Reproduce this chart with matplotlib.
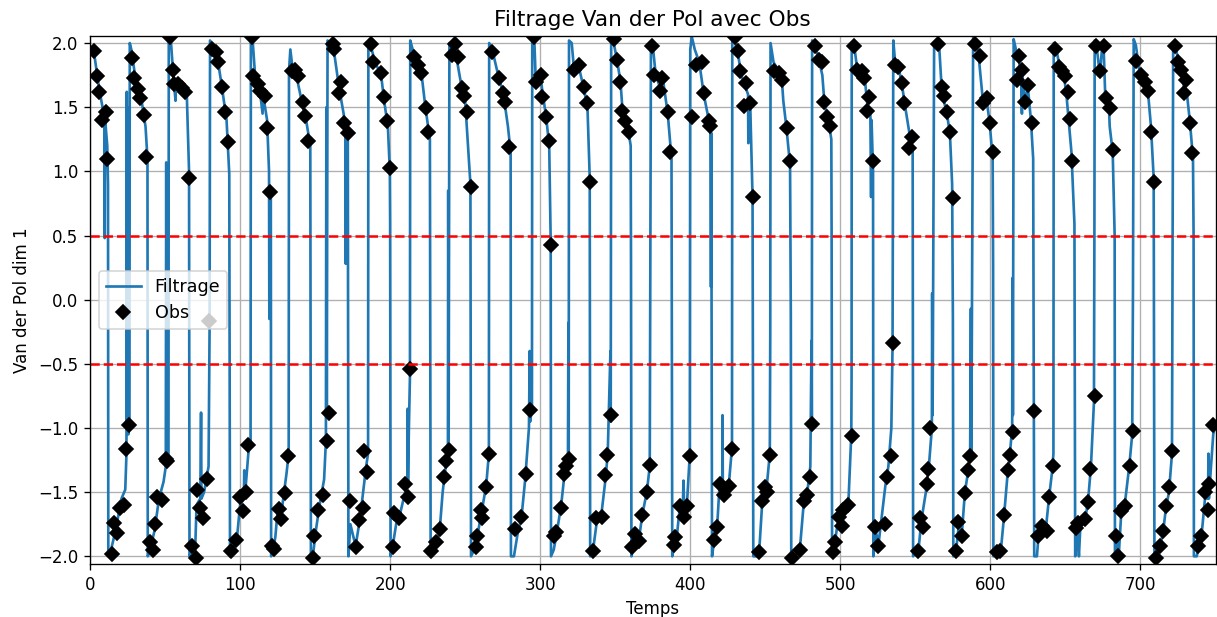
import matplotlib
matplotlib.use('Agg')
import matplotlib.pyplot as plt

# ── Filtered trajectory (one block per half cycle) ──
filt_t = [
    0, 3, 6, 9.6, 9.8, 10.1, 11.5, 12.0,
    12.2, 14, 17, 21, 23.5, 24.3, 24.5, 24.8, 25.2, 25.5, 26.3, 26.5,
    27.5, 30, 34, 37, 38.3, 38.5,
    40, 43, 46, 49, 50.5, 50.8, 51.1, 52.3, 52.5,
    54, 55.5, 57, 57.3, 61, 64.5, 66.0, 66.3,
    68, 70, 71, 73.5, 74.0, 74.3, 76, 79, 79.7, 80.0,
    81.5, 85, 88, 91, 92.8, 93.3,
    95, 98, 100, 102.5, 102.8, 103.1, 105.5, 107.0, 107.2,
    108.5, 110, 113, 115, 115.3, 118, 119.3, 119.5, 119.8, 120.5, 120.7,
    122, 123.5, 125, 128, 131, 132.4, 132.6,
    133.5, 135, 138, 141, 144, 146.8, 147.2,
    148.5, 150.5, 153, 156, 157.2, 157.5, 157.8, 158.3,
    160, 163, 166, 169, 170.2, 170.4, 170.6, 171.8, 172.2,
    173.5, 177, 180, 182, 184, 185.3, 185.5,
    187, 190, 194, 196, 198.5, 199.8, 200.0, 200.3,
    202, 204, 207, 210, 211.5, 211.7, 211.9, 212.5, 213.2, 213.4,
    215, 218, 221, 223.5, 226.5, 227.0,
    228.5, 231, 233, 235, 237, 238.5, 238.7, 239.0, 239.5,
    241.5, 244, 247, 250, 253.5, 253.9,
    256, 258, 261, 264, 265.8, 266.0,
    268, 272, 275.5, 278.5, 280.3, 280.5,
    282.5, 285, 287.5, 290, 292.5, 293.0, 293.3, 294.5, 294.7,
    296, 297, 300, 302, 304, 306, 307, 307.2,
    309, 311, 314, 316, 318.5, 318.8, 319.0, 319.2,
    321, 322.5, 326, 329, 331.5, 333, 333.3,
    335, 337.5, 341, 343.5, 345, 346.8, 347.0, 347.3,
    349, 351, 353.5, 355, 357, 359, 360.3, 360.5, 360.8,
    362, 364, 366, 368, 371, 373, 373.8,
    375, 377, 380, 382, 385, 387.5, 388.0,
    389.5, 391, 393, 395, 395.5, 396, 398, 399.7, 400.0,
    401, 403, 406, 409, 412, 413.5, 413.8, 414.0, 414.5,
    416, 418, 419.5, 421.3, 421.5, 421.7, 423, 426, 427.8, 428.0,
    430, 432, 434, 437, 438.5, 438.7, 440, 441.5, 442.0,
    444, 446, 448, 451, 453.0, 453.3, 453.5,
    455.5, 459, 461, 462, 464, 466.5, 467.0, 467.3,
    469, 473, 475.5, 478, 480, 480.8, 481.0, 481.2,
    483, 485.5, 488, 489.5, 492, 494, 494.2, 494.5,
    496, 498.5, 501, 503, 505.5, 507.3, 507.5, 507.6,
    509, 511, 514, 516.5, 518, 520, 520.5, 520.8, 521.8, 522.0,
    523.5, 525.5, 528, 530, 532, 534, 534.8, 535.3,
    536.5, 539, 541, 543, 546, 548.2, 548.5,
    550, 552, 554, 557, 559, 561, 561.2, 561.5, 562.5,
    564, 566, 567.5, 569, 571, 573, 574.5, 575.0, 575.3,
    577, 579, 581, 583, 585, 586.5, 587.0, 587.3, 588.5,
    590, 592, 595, 597, 599.5, 601.5, 601.8, 602.0,
    603.5, 605, 607, 609, 611.5, 613, 614.5, 614.8, 615.0, 615.5,
    617, 618.5, 620.5, 621.0, 621.3, 623, 625, 627, 628.5, 629.2,
    631, 632, 634, 637, 639, 641, 642.0, 642.2,
    644, 646, 649, 650.5, 652, 654, 656, 656.5,
    658, 659, 660, 663, 665, 667, 669, 669.3, 669.5,
    670.5, 672, 673, 674.5, 675.5, 676.5, 679, 679.5, 681.5, 682.8, 683.0,
    684.5, 685.5, 687, 689, 690, 692.5, 694.5, 695.0, 695.5,
    697, 699, 701, 703, 705, 707, 708.8, 709.3,
    711, 713, 715, 717, 719, 721, 721.8,
    723, 725, 727, 729, 731, 733, 735, 735.4, 735.6,
    737.5, 739, 741, 743, 745, 745.3, 745.6, 747, 748.5, 750,
]
filt_y = [
    1.98, 1.9, 1.65, 1.42, 0.48, 1.40, 1.2, 0.9,
    -2.0, -1.95, -1.8, -1.55, -1.48, -1.2, 1.62, -1.0, 1.5, -1.05, -0.95, 2.0,
    1.95, 1.75, 1.58, 1.35, 1.1, -2.0,
    -1.95, -1.8, -1.55, -1.42, -1.3, 1.07, -1.25, -1.2, 2.05,
    2.0, 1.75, 1.55, 1.7, 1.65, 1.6, 1.0, -2.0,
    -1.95, -1.98, -1.6, -1.55, -0.88, -1.55, -1.5, -1.3, -0.2, 2.02,
    1.97, 1.88, 1.65, 1.4, 0.98, -2.0,
    -1.95, -1.85, -1.6, -1.55, -1.33, -1.55, -1.2, -1.1, 2.05,
    2.0, 1.75, 1.65, 1.45, 1.6, 1.4, 1.0, -0.15, 0.85, 0.8, -2.0,
    -1.95, -1.85, -1.65, -1.62, -1.35, -1.2, 1.78,
    1.95, 1.8, 1.72, 1.55, 1.4, 1.2, -2.0,
    -2.0, -1.8, -1.6, -1.4, -1.1, 1.5, -0.9, 2.02,
    2.0, 1.9, 1.65, 1.45, 1.35, 0.28, 1.3, 1.25, -2.0,
    -1.75, -1.92, -1.7, -1.5, -1.3, -1.2, 2.0,
    1.98, 1.85, 1.75, 1.55, 1.35, 1.0, 0.6, -2.0,
    -1.9, -1.75, -1.65, -1.5, -1.45, -0.85, -1.45, -1.0, -0.6, 2.02,
    1.95, 1.85, 1.75, 1.5, 1.25, -2.0,
    -1.97, -1.9, -1.8, -1.5, -1.3, -1.2, 0.85, -1.1, 2.0,
    1.95, 1.9, 1.7, 1.55, 0.9, -2.0,
    -1.95, -1.85, -1.65, -1.45, -1.2, 2.0,
    1.95, 1.75, 1.6, 1.35, 1.15, -2.0,
    -2.0, -1.82, -1.7, -1.4, -1.0, -0.4, -0.95, -0.85, 2.05,
    2.05, 1.72, 1.75, 1.58, 1.42, 1.2, 0.45, -2.0,
    -1.95, -1.82, -1.6, -1.38, -1.2, -0.18, -1.2, 2.02,
    2.0, 1.8, 1.8, 1.65, 1.5, 0.95, -2.0,
    -1.97, -1.75, -1.65, -1.4, -1.2, -0.4, -0.95, 2.03,
    2.0, 1.88, 1.7, 1.45, 1.38, 1.3, 1.2, 0.33, -2.0,
    -1.93, -1.85, -1.85, -1.68, -1.5, -1.3, 2.0,
    1.98, 1.75, 1.65, 1.7, 1.45, 1.1, -2.0,
    -1.9, -1.85, -1.62, -1.62, -1.41, -1.65, -1.55, -1.2, 1.95,
    2.05, 1.95, 1.85, 1.6, 1.42, 1.3, 0.1, 1.3, -2.0,
    -1.87, -1.75, -1.45, -1.45, -0.9, -1.45, -1.48, -1.4, -1.15, 2.05,
    2.0, 1.9, 1.75, 1.65, 1.6, 1.22, 1.5, 0.8, -2.0,
    -2.0, -1.95, -1.57, -1.45, -1.2, -0.27, 2.0,
    1.85, 1.78, 1.72, 1.55, 1.35, 1.05, -0.12, -2.0,
    -2.0, -1.95, -1.6, -1.5, -1.3, -0.32, -0.95, 2.02,
    1.98, 1.88, 1.75, 1.52, 1.4, 1.25, 0.47, -2.0,
    -1.92, -1.72, -1.72, -1.62, -1.55, -1.05, -0.6, 2.0,
    2.0, 1.82, 1.78, 1.7, 1.52, 1.45, 0.8, 1.4, 1.0, -2.0,
    -1.8, -1.9, -1.65, -1.45, -1.3, -1.0, -0.35, 2.02,
    1.85, 1.8, 1.68, 1.52, 1.3, 1.15, -2.0,
    -1.95, -1.96, -1.72, -1.5, -1.3, -1.0, 0.05, -0.9, 2.0,
    2.0, 1.95, 1.65, 1.55, 1.45, 1.3, 0.9, -0.14, -2.0,
    -1.97, -1.75, -1.82, -1.5, -1.35, -1.2, -0.07, -1.2, 2.05,
    2.02, 1.92, 1.55, 1.6, 1.38, 1.1, 0.28, -2.0,
    -1.98, -2.0, -1.95, -1.7, -1.35, -1.2, -1.0, 0.17, -0.9, 2.03,
    1.95, 1.9, 1.75, 1.45, 1.75, 1.55, 1.65, 1.4, 1.1, -2.0,
    -2.0, -1.85, -1.78, -1.78, -1.55, -1.35, -1.2, 2.0,
    1.95, 1.82, 1.74, 1.62, 1.42, 1.15, 0.59, -2.0,
    -1.82, -2.0, -1.75, -1.72, -1.58, -1.3, -0.8, 0.5, 2.02,
    2.0, 1.85, 1.75, 1.98, 1.95, 1.6, 1.5, 1.35, 1.15, 0.5, -2.0,
    -1.85, -2.0, -1.7, -1.62, -1.55, -1.3, -1.05, 0.06, 2.03,
    1.98, 1.8, 1.75, 1.7, 1.62, 1.35, 0.95, -2.0,
    -2.0, -1.92, -1.82, -1.62, -1.5, -1.2, 2.0,
    1.98, 1.88, 1.8, 1.65, 1.6, 1.38, 1.1, 0.5, -2.0,
    -2.0, -1.9, -1.8, -1.55, -1.55, -1.2, -1.55, -1.3, -1.05, -0.98,
]

# ── Observations ──
obs_t = [
    2.9, 4.4, 6.0, 7.8, 10.7, 11.6,
    14.4, 16.0, 18.2, 20.0, 22.7, 23.8, 26.2,
    28.0, 29.6, 32.0, 33.3, 36.0, 37.3,
    40.0, 41.8, 43.3, 44.9, 47.8, 50.5, 51.6,
    53.3, 55.6, 56.3, 58.9, 61.1, 63.2, 66.0,
    67.8, 70.4, 71.1, 73.3, 75.1, 77.8, 79.6,
    81.1, 84.0, 85.6, 87.8, 90.0, 92.2,
    94.2, 97.5, 99.8, 101.8, 104.0, 105.6,
    107.8, 108.8, 111.7, 113.5, 116.5, 117.8, 120.0,
    121.5, 122.8, 125.8, 127.0, 129.7, 131.9,
    134.5, 136.5, 138.4, 141.7, 143.2, 145.5,
    148.3, 149.5, 151.7, 155.4, 157.7, 159.4,
    161.6, 162.3, 165.6, 167.2, 169.4, 171.6,
    173.4, 177.2, 179.4, 181.6, 182.7, 184.5,
    187.2, 188.8, 193.9, 195.6, 197.9, 200.1,
    201.6, 202.7, 206.1, 209.8, 211.6, 213.4,
    216.0, 218.3, 220.5, 223.8, 225.4,
    227.1, 230.5, 233.3, 235.6, 237.1, 239.3,
    241.5, 243.1, 244.9, 248.2, 249.3, 251.5, 253.7,
    257.1, 258.2, 260.4, 261.5, 263.7, 265.9,
    268.1, 272.6, 275.5, 276.4, 279.2,
    283.5, 287.4, 290.3, 293.2,
    295.8, 296.9, 300.3, 301.4, 303.6, 305.8, 307.4,
    309.1, 310.3, 313.6, 315.8, 316.9, 319.1,
    322.4, 325.8, 329.1, 331.3, 333.5,
    335.3, 337.5, 341.3, 343.5, 344.6, 347.3,
    349.1, 351.3, 353.5, 354.6, 356.8, 359.0,
    361.2, 363.5, 365.7, 367.9, 371.5, 373.3,
    374.5, 375.8, 379.7, 381.3, 385.0, 386.8,
    389.0, 390.1, 393.0, 395.7, 397.9, 399.7,
    401.2, 403.5, 407.9, 409.0, 412.3, 413.4,
    415.6, 417.9, 420.1, 422.3, 425.6, 427.8,
    430.1, 431.6, 433.4, 435.6, 437.4, 440.0, 441.8,
    445.6, 447.8, 449.5, 451.3, 453.3,
    455.6, 458.9, 461.1, 464.4, 466.6,
    468.0, 473.3, 475.5, 477.7, 479.5, 481.0,
    483.2, 485.5, 487.7, 488.8, 491.0, 493.2,
    495.4, 496.5, 498.8, 501.0, 502.1, 505.4, 507.6,
    508.8, 511.0, 514.3, 515.9, 517.6, 519.4, 521.6,
    523.2, 525.4, 529.8, 530.9, 533.6, 535.4,
    536.5, 538.7, 541.0, 542.5, 546.0, 547.6,
    552.0, 553.1, 555.3, 557.5, 558.6, 559.7,
    565.4, 567.6, 569.1, 571.3, 573.1, 574.9,
    577.1, 578.7, 580.9, 583.1, 585.3, 586.4,
    589.8, 593.1, 595.3, 597.5, 599.7, 601.5,
    604.2, 606.4, 609.0, 611.9, 613.0, 614.8,
    617.5, 619.2, 620.8, 623.0, 625.3, 627.4, 629.0,
    631.9, 634.1, 637.4, 639.2, 641.4,
    642.9, 645.9, 647.5, 650.0, 651.5, 653.0, 654.5,
    656.8, 658.5, 662.9, 665.1, 666.7, 669.5,
    670.2, 672.9, 675.5, 676.9, 679.5, 681.7,
    683.5, 685.1, 687.3, 689.5, 692.8, 695.0,
    697.3, 700.6, 702.8, 705.0, 707.2, 708.8,
    710.6, 712.8, 715.0, 717.2, 719.0, 721.2,
    722.8, 725.0, 727.2, 728.8, 730.5, 732.7, 734.5,
    738.3, 740.5, 742.7, 744.9, 746.0, 748.5,
]
obs_y = [
    1.94, 1.74, 1.62, 1.40, 1.46, 1.10,
    -1.98, -1.74, -1.82, -1.62, -1.60, -1.16, -0.98,
    1.88, 1.73, 1.64, 1.57, 1.44, 1.11,
    -1.89, -1.95, -1.75, -1.54, -1.56, -1.24, -1.26,
    2.05, 1.79, 1.68, 1.68, 1.65, 1.62, 0.95,
    -1.92, -2.01, -1.48, -1.62, -1.70, -1.40, -0.17,
    1.95, 1.93, 1.85, 1.66, 1.46, 1.23,
    -1.96, -1.87, -1.54, -1.65, -1.50, -1.13,
    2.05, 1.74, 1.68, 1.63, 1.59, 1.34, 0.84,
    -1.92, -1.94, -1.63, -1.71, -1.51, -1.22,
    1.78, 1.79, 1.74, 1.54, 1.43, 1.24,
    -2.01, -1.84, -1.64, -1.52, -1.10, -0.88,
    1.99, 1.95, 1.61, 1.70, 1.38, 1.30,
    -1.57, -1.93, -1.72, -1.62, -1.18, -1.34,
    1.99, 1.85, 1.77, 1.58, 1.39, 1.03,
    -1.93, -1.66, -1.70, -1.44, -1.54, -0.54,
    1.89, 1.83, 1.77, 1.49, 1.31,
    -1.96, -1.89, -1.79, -1.38, -1.26, -1.17,
    1.91, 1.99, 1.89, 1.65, 1.59, 1.46, 0.88,
    -1.93, -1.84, -1.64, -1.70, -1.46, -1.20,
    1.93, 1.73, 1.61, 1.54, 1.19,
    -1.79, -1.69, -1.36, -0.86,
    2.05, 1.70, 1.75, 1.58, 1.42, 1.24, 0.43,
    -1.84, -1.81, -1.62, -1.36, -1.30, -1.24,
    1.79, 1.83, 1.66, 1.53, 0.92,
    -1.96, -1.70, -1.69, -1.37, -1.21, -0.90,
    2.03, 1.87, 1.70, 1.47, 1.39, 1.31,
    -1.93, -1.83, -1.88, -1.68, -1.50, -1.29,
    1.98, 1.75, 1.63, 1.73, 1.46, 1.15,
    -1.91, -1.85, -1.61, -1.69, -1.61, -1.22,
    1.42, 1.83, 1.85, 1.61, 1.39, 1.35,
    -1.87, -1.77, -1.44, -1.52, -1.45, -1.16,
    2.05, 1.94, 1.78, 1.51, 1.69, 1.53, 0.80,
    -1.97, -1.57, -1.46, -1.50, -1.21,
    1.78, 1.77, 1.71, 1.34, 1.08,
    -2.01, -1.95, -1.57, -1.52, -1.38, -0.97,
    1.98, 1.87, 1.85, 1.54, 1.42, 1.35,
    -1.97, -1.89, -1.69, -1.76, -1.64, -1.60, -1.06,
    1.98, 1.79, 1.78, 1.73, 1.47, 1.58, 1.08,
    -1.77, -1.92, -1.75, -1.38, -1.22, -0.34,
    1.83, 1.81, 1.69, 1.53, 1.18, 1.27,
    -1.96, -1.70, -1.77, -1.44, -1.32, -1.00,
    1.99, 1.66, 1.59, 1.46, 1.31, 0.79,
    -1.96, -1.73, -1.84, -1.51, -1.33, -1.22,
    1.99, 1.90, 1.53, 1.57, 1.38, 1.15,
    -1.97, -1.96, -1.68, -1.33, -1.21, -1.03,
    1.71, 1.90, 1.79, 1.54, 1.67, 1.38, -0.87,
    -1.84, -1.76, -1.80, -1.54, -1.30,
    1.95, 1.81, 1.78, 1.74, 1.62, 1.41, 1.08,
    -1.78, -1.74, -1.71, -1.58, -1.32, -0.75,
    1.98, 1.78, 1.98, 1.57, 1.49, 1.17,
    -1.84, -2.00, -1.65, -1.61, -1.30, -1.02,
    1.86, 1.75, 1.70, 1.63, 1.31, 0.92,
    -2.01, -1.92, -1.80, -1.61, -1.46, -1.18,
    1.98, 1.85, 1.79, 1.61, 1.71, 1.38, 1.14,
    -1.92, -1.84, -1.50, -1.64, -1.44, -0.98,
]

THRESHOLDS = [0.5, -0.5]

fig = plt.figure(figsize=(1217 / 120, 617 / 120), dpi=120)
fig.subplots_adjust(left=90 / 1217, right=1215.5 / 1217,
                    bottom=1 - 564 / 617, top=1 - 36 / 617)
ax = fig.add_subplot(111)

ax.plot(filt_t, filt_y, color='#1f77b4', lw=1.6, label='Filtrage')
ax.plot(obs_t, obs_y, 'kD', ms=6, label='Obs')
for th in THRESHOLDS:
    ax.axhline(th, color='r', ls='--', lw=1.5)

ax.set_xlim(0, 750)
ax.set_ylim(-2.06, 2.055)
ax.grid(True)
ax.set_title('Filtrage Van der Pol avec Obs', fontsize=13)
ax.set_xlabel('Temps')
ax.set_ylabel('Van der Pol dim 1')
ax.legend(loc='center left', fontsize=10.5)

fig.savefig('out.png', dpi=120)
